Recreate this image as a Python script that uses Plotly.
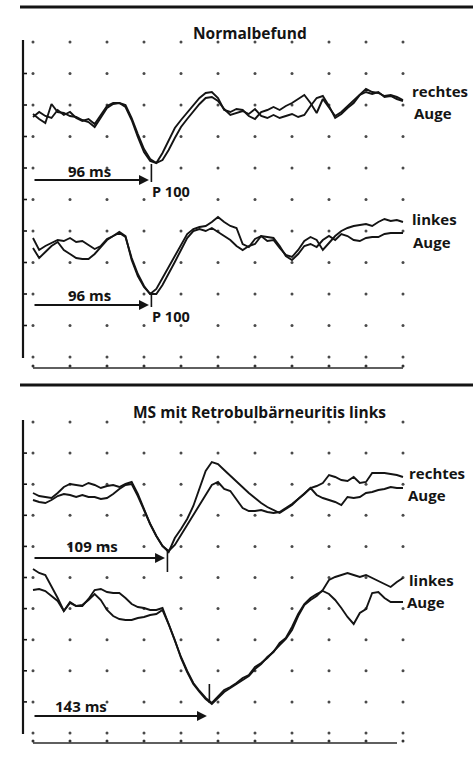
import plotly.graph_objects as go

# ---------------- data ----------------
time_ms = list(range(0, 301, 5))          # sampling of the VEP sweeps, 0..300 ms

# Normalbefund - rechtes Auge (two superimposed sweeps), amplitude, positive = down
normal_right_a = [-1, 4, 8, -11, -3, -2, 1, 2, 5, 7, 12, 3, -7, -11, -12, -8, 5, 22, 37, 46,
                  48, 38, 26, 13, 5, -2, -9, -17, -22, -23, -17, -5, -3, -6, -5, 1, 4, -3, -5, -8,
                  -5, -9, -12, -16, -20, -12, -2, -16, -7, 1, -3, -9, -15, -21, -26, -23, -22, -19, -20, -18,
                  -15]
normal_right_b = [2, -3, 1, 3, -5, 0, -3, 3, 6, 4, 9, 0, -9, -12, -12, -10, 3, 19, 34, 44,
                  48, 45, 35, 23, 12, 4, -4, -11, -17, -18, -14, -6, 0, -2, -4, -1, -6, 1, 3, 0,
                  3, 1, -1, 2, 0, -9, -17, -19, -9, 3, -1, -7, -12, -20, -23, -21, -23, -18, -19, -16,
                  -14]
# Normalbefund - linkes Auge
normal_left_a = [-7, 5, 1, -2, -5, -4, -7, -3, -4, 0, 4, 1, -6, -9, -13, -9, 15, 31, 42, 49,
                 44, 33, 22, 11, 0, -11, -16, -18, -19, -23, -28, -23, -19, -17, -1, 2, -6, -9, -4, -5,
                 3, 10, 12, 5, -4, -8, -5, 5, -2, -9, -14, -17, -19, -20, -21, -19, -23, -26, -24, -25,
                 -23]
normal_left_b = [3, 13, 7, 1, -3, 5, 9, 13, 14, 14, 9, 2, -5, -9, -12, -8, 13, 29, 41, 49,
                 49, 40, 29, 17, 5, -7, -14, -16, -14, -17, -13, -9, -5, 1, 5, 1, -1, -9, -8, -7,
                 1, 11, 15, 9, 1, -1, 2, -5, -9, -5, -11, -9, -5, -4, -7, -8, -8, -11, -12, -12,
                 -12]
# MS mit Retrobulbärneuritis links - rechtes Auge
ms_right_a = [3, 6, 7, 8, 3, -3, -6, -5, -4, -7, -5, -2, -4, -5, -3, -6, -8, 4, 20, 34,
              46, 56, 62, 48, 39, 29, 16, -2, -19, -28, -26, -20, -14, -8, -2, 3, 8, 13, 17, 20,
              23, 19, 15, 9, 3, -2, -4, -7, -15, -13, -10, -9, -13, -7, -8, -17, -17, -17, -16, -15,
              -13]
ms_right_b = [10, 12, 13, 10, 6, 4, 5, 7, 5, 7, 7, 9, 8, 4, -1, -5, -6, 6, 20, 34,
              46, 56, 61, 55, 45, 35, 25, 16, 6, -5, -8, -1, 1, 9, 18, 21, 21, 20, 22, 23,
              22, 18, 14, 9, 4, -2, 5, 8, 10, 12, 15, 7, 8, 7, 3, 2, 0, -1, -3, -2,
              -2]
# MS mit Retrobulbärneuritis links - linkes Auge
ms_left_a = [-31, -27, -25, -14, -2, 11, 3, 6, 6, -1, -10, -11, -8, -7, -7, -2, 4, 7, 8, 10,
             10, 8, 25, 40, 57, 71, 83, 91, 98, 103, 96, 90, 87, 83, 78, 75, 67, 63, 58, 51,
             45, 39, 30, 16, 5, 0, -4, -10, -20, -23, -25, -27, -25, -23, -25, -22, -19, -16, -13, -18,
             -22]
ms_left_b = [-10, -11, -9, -4, 1, 11, 2, 6, 5, 0, -6, 0, 10, 16, 19, 20, 20, 18, 17, 15,
             14, 10, 24, 40, 58, 72, 84, 92, 99, 104, 98, 92, 88, 84, 80, 76, 69, 64, 57, 52,
             43, 38, 27, 14, 4, -2, -6, -9, -6, 0, 8, 17, 24, 13, 9, -7, -8, -2, 2, 2,
             2]

latencies_ms = [96, 96, 109, 143]
latency_units = "ms"
peak_name = "P 100"
panel_titles = ["Normalbefund", "MS mit Retrobulbärneuritis links"]
eye_names = ["rechtes", "linkes"]
eye_word = "Auge"
grid_times_ms = [0, 30, 60, 90, 120, 150, 180, 210, 240, 270, 300]

# ---------------- layout geometry (page units, 1 unit = 1 px vertically) ----------------
W, H = 473, 757
X0_PX = 33.0
PX_PER_MS = 370.0 / 300.0


def xm(px):
    return (px - X0_PX) / PX_PER_MS


panels = [
    dict(row_top=42, row_step=31.5, frame_line=7, base_line=368, axis_bottom=357, base_end=403,
         trace_offsets=[115, 245], title_y=33,
         label_y=[(91, 113), (219, 242)], label_x=[(410, 412), (410, 411)],
         lat_text_y=[171, 295], arrow_y=[180, 305], p_y=[191, 316],
         tick_span=[(164, 182), (292, 307)], lat_text_x=[89, 89]),
    dict(row_top=422, row_step=31.1, frame_line=385, base_line=743, axis_bottom=733, base_end=397,
         trace_offsets=[490, 600], title_y=412,
         label_y=[(473, 495), (580, 602)], label_x=[(407, 406), (407, 405)],
         lat_text_y=[546, 706], arrow_y=[558, 716], p_y=[None, None],
         tick_span=[(551, 572), (684, 703)], lat_text_x=[92, 81]),
]
title_x_px = [250, 259]
series = [[normal_right_a, normal_right_b], [normal_left_a, normal_left_b],
          [ms_right_a, ms_right_b], [ms_left_a, ms_left_b]]

INK = "#141414"
FONT = "Open Sans"

fig = go.Figure()
shapes = []
annotations = []

for p_i, pan in enumerate(panels):
    # dotted grid
    gx, gy = [], []
    for k in range(11):
        yy = pan["row_top"] + k * pan["row_step"]
        for t in grid_times_ms:
            gx.append(t)
            gy.append(yy)
    fig.add_trace(go.Scatter(x=gx, y=gy, mode="markers",
                             marker=dict(size=3, color="#4a4a4a", line=dict(width=0)),
                             hoverinfo="skip"))
    # small dots on the base line
    fig.add_trace(go.Scatter(x=grid_times_ms, y=[pan["base_line"] - 2] * len(grid_times_ms),
                             mode="markers", marker=dict(size=3, color="#333"), hoverinfo="skip"))
    # thick frame line on top of the panel
    shapes.append(dict(type="line", xref="x", yref="y", x0=xm(20), x1=xm(W), y0=pan["frame_line"],
                       y1=pan["frame_line"], line=dict(color=INK, width=3.2)))
    # base (time) line
    shapes.append(dict(type="line", xref="x", yref="y", x0=0, x1=xm(pan["base_end"]),
                       y0=pan["base_line"], y1=pan["base_line"], line=dict(color="#2a2a2a", width=1.6)))
    # vertical amplitude axis with ticks
    shapes.append(dict(type="line", xref="x", yref="y", x0=xm(23), x1=xm(23), y0=pan["row_top"] - 2,
                       y1=pan["axis_bottom"] + 1, line=dict(color=INK, width=2.2)))
    for k in range(1, 10):
        yy = pan["row_top"] + k * pan["row_step"]
        shapes.append(dict(type="line", xref="x", yref="y", x0=xm(23), x1=xm(27), y0=yy, y1=yy,
                           line=dict(color=INK, width=1.6)))
    # panel title
    annotations.append(dict(x=xm(title_x_px[p_i]), y=pan["title_y"], xref="x", yref="y",
                            text=panel_titles[p_i], showarrow=False, xanchor="center", yanchor="middle",
                            font=dict(family=FONT, size=15.5, color=INK, weight="bold")))

    for e_i in range(2):
        s_i = p_i * 2 + e_i
        off = pan["trace_offsets"][e_i]
        for sweep in series[s_i]:
            fig.add_trace(go.Scatter(x=time_ms, y=[off + v for v in sweep], mode="lines",
                                     line=dict(color=INK, width=1.9), hoverinfo="skip"))
        lat = latencies_ms[s_i]
        # eye labels
        annotations.append(dict(x=xm(pan["label_x"][e_i][0]), y=pan["label_y"][e_i][0], xref="x", yref="y",
                                text=eye_names[e_i], showarrow=False, xanchor="left", yanchor="middle",
                                font=dict(family=FONT, size=15, color=INK, weight="bold")))
        annotations.append(dict(x=xm(pan["label_x"][e_i][1]), y=pan["label_y"][e_i][1], xref="x", yref="y",
                                text=eye_word, showarrow=False, xanchor="left", yanchor="middle",
                                font=dict(family=FONT, size=15, color=INK, weight="bold")))
        # latency arrow from stimulus onset
        annotations.append(dict(x=lat - 2, y=pan["arrow_y"][e_i], ax=0, ay=pan["arrow_y"][e_i],
                                xref="x", yref="y", axref="x", ayref="y", text="", showarrow=True,
                                arrowhead=2, arrowsize=1.1, arrowwidth=1.8, arrowcolor=INK))
        annotations.append(dict(x=xm(pan["lat_text_x"][e_i]), y=pan["lat_text_y"][e_i], xref="x", yref="y",
                                text=f"{lat} {latency_units}", showarrow=False, xanchor="center",
                                yanchor="middle",
                                font=dict(family=FONT, size=15, color=INK, weight="bold")))
        # marker at the peak
        y0, y1 = pan["tick_span"][e_i]
        shapes.append(dict(type="line", xref="x", yref="y", x0=lat, x1=lat, y0=y0, y1=y1,
                           line=dict(color=INK, width=1.6)))
        if pan["p_y"][e_i] is not None:
            annotations.append(dict(x=lat - 1.5, y=pan["p_y"][e_i], xref="x", yref="y", text=peak_name,
                                    showarrow=False, xanchor="left", yanchor="middle",
                                    font=dict(family=FONT, size=14.5, color=INK, weight="bold")))

fig.update_layout(
    width=W, height=H, margin=dict(l=0, r=0, t=0, b=0),
    paper_bgcolor="white", plot_bgcolor="white", showlegend=False,
    xaxis=dict(range=[xm(0), xm(W)], visible=False, fixedrange=True),
    yaxis=dict(range=[H, 0], visible=False, fixedrange=True),
    shapes=shapes, annotations=annotations,
)

fig.write_html("out.html", config={"displayModeBar": False},
               post_script="document.body.style.margin='0';document.body.style.overflow='hidden';")
